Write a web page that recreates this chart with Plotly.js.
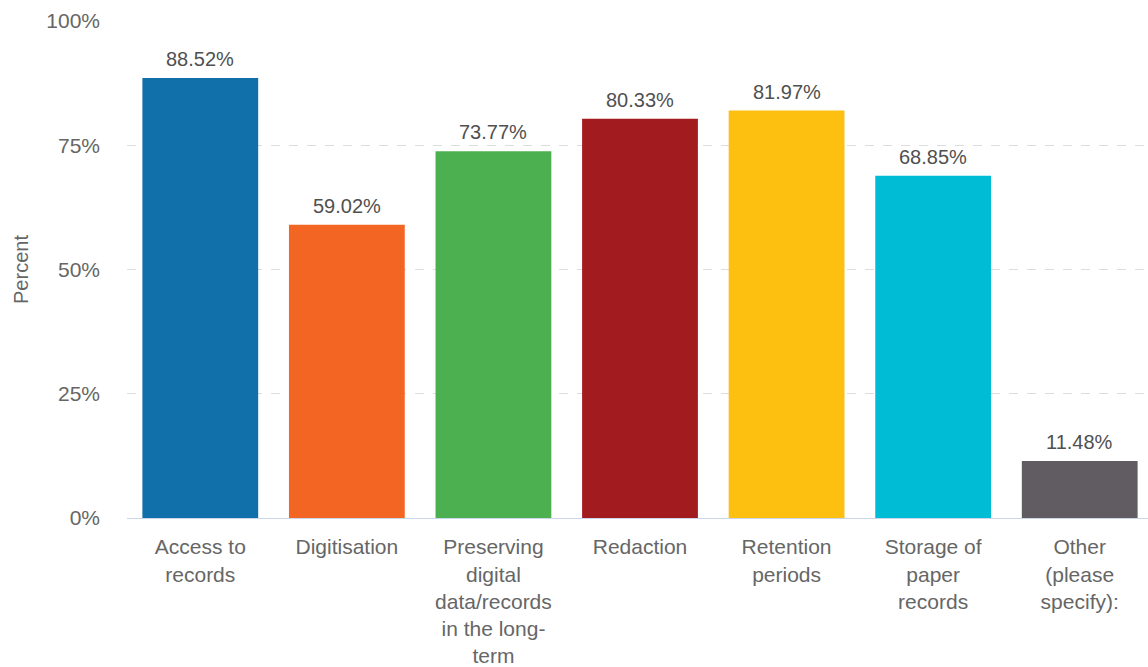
<!DOCTYPE html>
<html>
<head>
<meta charset="utf-8">
<script src="https://cdn.plot.ly/plotly-3.0.1.min.js"></script>
<style>
html, body { margin: 0; padding: 0; overflow: hidden; background: #fff; }
#chart { width: 1153px; height: 667px; }
</style>
</head>
<body>
<div id="chart"></div>
<script>
var categories = [
  "Access to<br>records",
  "Digitisation",
  "Preserving<br>digital<br>data/records<br>in the long-<br>term",
  "Redaction",
  "Retention<br>periods",
  "Storage of<br>paper<br>records",
  "Other<br>(please<br>specify):"
];
var values = [88.52, 59.02, 73.77, 80.33, 81.97, 68.85, 11.48];
var colors = ["#1170aa", "#f26522", "#4caf50", "#a21b1f", "#fdc010", "#00bcd4", "#605c61"];
var yTickVals = [0, 25, 50, 75, 100];
var yTickText = ["0%", "25%", "50%", "75%", "100%"];

var FONT = "'Liberation Sans', Arial, sans-serif";

var trace = {
  type: "bar",
  x: categories,
  y: values,
  marker: { color: colors, line: { width: 0 } },
  hoverinfo: "x+y",
  showlegend: false
};

var annotations = values.map(function (v, i) {
  return {
    x: categories[i],
    y: v,
    xref: "x",
    yref: "y",
    text: v.toFixed(2) + "%",
    showarrow: false,
    yanchor: "bottom",
    yshift: 6,
    font: { family: FONT, size: 20, color: "#505050" }
  };
});

var layout = {
  width: 1153,
  height: 667,
  margin: { l: 127, r: 0, t: 21, b: 149 },
  paper_bgcolor: "#ffffff",
  plot_bgcolor: "#ffffff",
  font: { family: FONT, color: "#666666" },
  bargap: 0.21,
  xaxis: {
    type: "category",
    showgrid: false,
    showline: true,
    linecolor: "#ccd6eb",
    linewidth: 1,
    ticks: "",
    tickangle: 0,
    tickfont: { family: FONT, size: 21, color: "#666666" },
    ticklabelstandoff: 10,
    zeroline: false
  },
  yaxis: {
    range: [0, 100],
    tickvals: yTickVals,
    ticktext: yTickText,
    showgrid: true,
    gridcolor: "#dddddd",
    griddash: "dash",
    gridwidth: 1,
    zeroline: false,
    showline: false,
    ticks: "",
    tickfont: { family: FONT, size: 21, color: "#666666" },
    ticklabelstandoff: 26,
    title: { text: "Percent", font: { family: FONT, size: 20, color: "#666666" }, standoff: 12 }
  },
  annotations: annotations
};

Plotly.newPlot("chart", [trace], layout, { displayModeBar: false, staticPlot: true });
</script>
</body>
</html>
